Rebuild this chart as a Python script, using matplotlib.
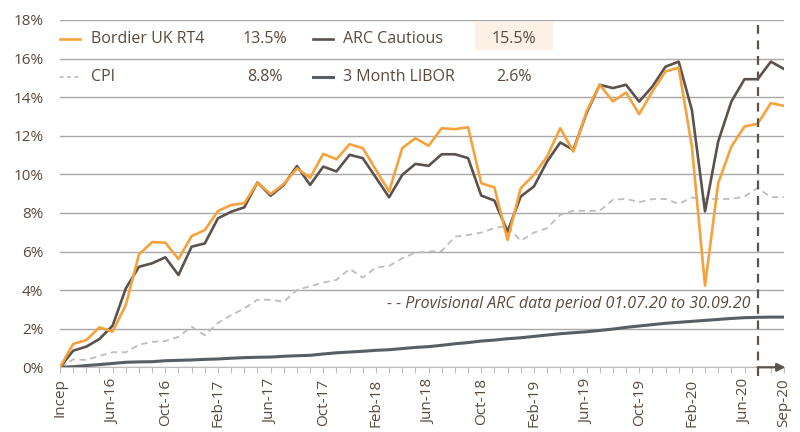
import matplotlib
matplotlib.use('Agg')
import matplotlib.pyplot as plt
from matplotlib.patches import Rectangle

plt.rcParams['font.family'] = ['Open Sans', 'DejaVu Sans']

# monthly cumulative returns (%), Feb-16 (inception) to Sep-20
bordier = [0, 1.21, 1.41, 2.07, 1.85, 3.23, 5.85, 6.49, 6.46, 5.61,
           6.80, 7.11, 8.10, 8.41, 8.50, 9.57, 8.98, 9.50, 10.31, 9.82,
           11.06, 10.78, 11.56, 11.36, 10.23, 9.11, 11.36, 11.87, 11.48, 12.39,
           12.34, 12.44, 9.54, 9.32, 6.60, 9.28, 9.97, 10.92, 12.39, 11.18,
           13.26, 14.64, 13.78, 14.24, 13.12, 14.29, 15.33, 15.53, 11.44, 4.23,
           9.54, 11.44, 12.48, 12.62, 13.69, 13.55]
arc_cautious = [0, 0.86, 1.07, 1.47, 2.16, 4.09, 5.21, 5.39, 5.70, 4.78,
                6.25, 6.42, 7.72, 8.06, 8.29, 9.58, 8.89, 9.45, 10.43, 9.45,
                10.40, 10.15, 11.01, 10.84, 9.83, 8.81, 9.97, 10.54, 10.44, 11.04,
                11.04, 10.84, 8.90, 8.64, 7.03, 8.85, 9.37, 10.66, 11.65, 11.27,
                13.17, 14.64, 14.47, 14.64, 13.77, 14.55, 15.58, 15.84, 13.34, 8.08,
                11.70, 13.77, 14.93, 14.93, 15.84, 15.46]
cpi = [0, 0.41, 0.38, 0.59, 0.78, 0.78, 1.17, 1.32, 1.36, 1.58,
       2.10, 1.66, 2.30, 2.70, 3.05, 3.50, 3.50, 3.40, 4.01, 4.20,
       4.39, 4.53, 5.10, 4.65, 5.17, 5.25, 5.65, 5.94, 6.00, 6.03,
       6.77, 6.86, 6.98, 7.21, 7.33, 6.55, 6.98, 7.21, 7.90, 8.11,
       8.11, 8.11, 8.68, 8.73, 8.56, 8.72, 8.72, 8.47, 8.80, 8.72,
       8.73, 8.72, 8.85, 9.29, 8.82, 8.82]
libor = [0, 0.03, 0.09, 0.14, 0.20, 0.26, 0.28, 0.29, 0.34, 0.36,
         0.38, 0.41, 0.43, 0.47, 0.50, 0.52, 0.53, 0.57, 0.60, 0.62,
         0.69, 0.75, 0.79, 0.83, 0.88, 0.91, 0.97, 1.03, 1.07, 1.14,
         1.22, 1.28, 1.36, 1.41, 1.48, 1.53, 1.60, 1.67, 1.74, 1.79,
         1.84, 1.91, 1.98, 2.07, 2.14, 2.21, 2.28, 2.33, 2.38, 2.43,
         2.48, 2.53, 2.57, 2.59, 2.60, 2.60]

tick_labels = {0: 'Incep', 4: 'Jun-16', 8: 'Oct-16', 12: 'Feb-17', 16: 'Jun-17',
               20: 'Oct-17', 24: 'Feb-18', 28: 'Jun-18', 32: 'Oct-18', 36: 'Feb-19',
               40: 'Jun-19', 44: 'Oct-19', 48: 'Feb-20', 52: 'Jun-20', 55: 'Sep-20'}
provisional_start = 53  # Jul-20

legend_rows = [
    ('Bordier UK RT4', '13.5%', 'ARC Cautious', '15.5%'),
    ('CPI', '8.8%', '3 Month LIBOR', '2.6%'),
]

ORANGE = '#f6a23c'
ARC = '#5b524e'
LIB = '#585f64'
CPI_C = '#bdbdbd'
TXT = '#5a4a3e'
GRID = '#a8a8a8'

fig = plt.figure(figsize=(8, 4.32), dpi=100)
ax = fig.add_axes([0.075, 0.1498, 0.905, 0.804])

x = list(range(len(bordier)))
ax.plot(x, cpi, color=CPI_C, lw=1.3, ls=(0, (3.5, 2.5)), zorder=2)
ax.plot(x, libor, color=LIB, lw=2.2, zorder=3)
ax.plot(x, arc_cautious, color=ARC, lw=1.9, zorder=4)
ax.plot(x, bordier, color=ORANGE, lw=1.9, zorder=5)

ax.set_xlim(0, len(x) - 1)
ax.set_ylim(0, 18)
ax.set_yticks(range(0, 19, 2))
ax.set_yticklabels([f'{v}%' for v in range(0, 19, 2)])
ax.set_xticks(x)
ax.set_xticklabels([tick_labels.get(i, '') for i in x], rotation=90)
ax.grid(axis='y', color=GRID, lw=1)
ax.set_axisbelow(True)
for s in ['top', 'right', 'left']:
    ax.spines[s].set_visible(False)
ax.spines['bottom'].set_color('#bdbdbd')
ax.tick_params(axis='y', length=0, pad=12, labelsize=11, labelcolor=TXT)
ax.tick_params(axis='x', length=4, width=0.8, color='#bdbdbd', pad=4,
               labelsize=11, labelcolor=TXT)

# provisional period marker
ax.plot([provisional_start, provisional_start], [-0.45, 18], color=ARC, lw=1.6,
        ls=(0, (4, 3)), clip_on=False, zorder=6)
ax.annotate('', xy=(len(x) - 0.9, 0), xytext=(provisional_start, 0),
            arrowprops=dict(arrowstyle='-|>', color=ARC, lw=1.6,
                            mutation_scale=12, shrinkA=0, shrinkB=0),
            annotation_clip=False, zorder=7)
ax.text(24.85, 3.3, '- - Provisional ARC data period 01.07.20 to 30.09.20',
        style='italic', fontsize=11.5, color=TXT, va='center', ha='left')

# legend laid out over the top grid band
px = lambda p: (p - 60) / 13.16
ax.add_patch(Rectangle((px(475), 16.45), px(553) - px(475), 1.45,
                       color='#fdf1e6', lw=0, zorder=1))
row_y = [17.0, 15.05]
markers = [
    (ORANGE, '-', 1.9, ARC, 1.9),
    (CPI_C, (0, (2, 2)), 1.3, LIB, 2.2),
]
for (n1, v1, n2, v2), yy, (c1, ls1, lw1, c2, lw2) in zip(legend_rows, row_y, markers):
    ax.plot([px(60), px(80)], [yy, yy], color=c1, ls=ls1, lw=lw1, clip_on=False)
    ax.text(px(91), yy, n1, fontsize=11.5, color=TXT, va='center', ha='left')
    ax.text(px(265), yy, v1, fontsize=11.5, color=TXT, va='center', ha='center')
    ax.plot([px(313), px(333)], [yy, yy], color=c2, lw=lw2)
    ax.text(px(343), yy, n2, fontsize=11.5, color=TXT, va='center', ha='left')
    ax.text(px(514), yy, v2, fontsize=11.5, color=TXT, va='center', ha='center')

fig.savefig('out.png', dpi=100, facecolor='white')
